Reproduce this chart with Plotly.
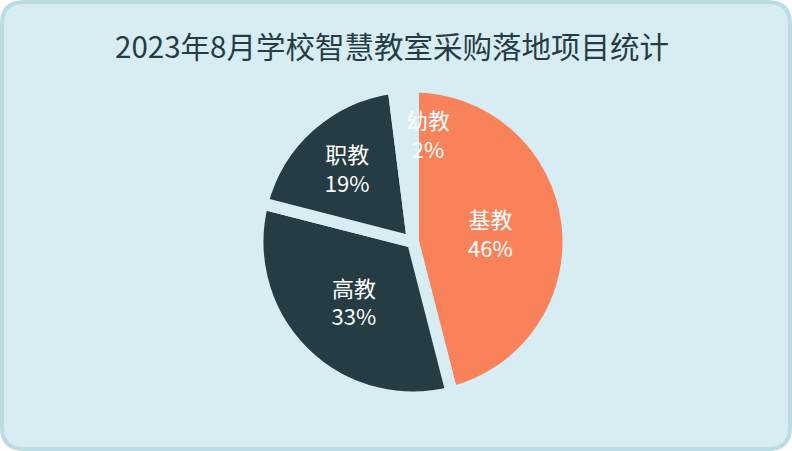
import math
import plotly.graph_objects as go

# 2023年8月 各学段智慧教室采购项目占比
categories = ["基教", "高教", "职教", "幼教"]
shares = [46, 33, 19, 2]
slice_colors = ["#f9825a", "#263c44", "#263c44", "#d7edf3"]

W, H = 792, 451
BG = "#d7edf3"
EDGE = "#b9dde3"
DARK = "#263c44"
FONT = "Noto Sans CJK SC, Microsoft YaHei, sans-serif"

# pie placement in pixels
cx, cy, R = 413, 242, 155.5
gap = 12

# the tiny slice gets its label as an annotation placed from the data
texts = [f"{c}<br>{v}%" for c, v in zip(categories, shares)]
texts[-1] = ""
total = sum(shares)
end = 360.0
lab_ang = math.radians(end + 8)
lab_r = 0.73 * (R - gap / 2)
lab_x = (cx + lab_r * math.sin(lab_ang)) / W
lab_y = 1 - (cy - lab_r * math.cos(lab_ang)) / H

fig = go.Figure(go.Pie(
    labels=categories,
    values=shares,
    text=texts,
    textinfo="text",
    sort=False,
    direction="clockwise",
    rotation=0,
    marker=dict(colors=slice_colors, line=dict(color=BG, width=gap)),
    textposition="inside",
    insidetextorientation="horizontal",
    textfont=dict(family=FONT, size=22, color="white"),
    hoverinfo="skip",
    domain=dict(x=[(cx - R) / W, (cx + R) / W],
                y=[(H - cy - R) / H, (H - cy + R) / H]),
))

fig.add_annotation(
    x=lab_x, y=lab_y, xref="paper", yref="paper",
    xanchor="center", yanchor="middle",
    text=f"{categories[-1]}<br>{shares[-1]}%",
    showarrow=False,
    font=dict(family=FONT, size=22, color="white"),
)

# rounded card behind everything
rx, ry = 22 / W, 22 / H
x0, y0, x1, y1 = 2 / W, 2 / H, 1 - 2 / W, 1 - 2 / H
card = (f"M {x0 + rx} {y0} L {x1 - rx} {y0} Q {x1} {y0} {x1} {y0 + ry} "
        f"L {x1} {y1 - ry} Q {x1} {y1} {x1 - rx} {y1} "
        f"L {x0 + rx} {y1} Q {x0} {y1} {x0} {y1 - ry} "
        f"L {x0} {y0 + ry} Q {x0} {y0} {x0 + rx} {y0} Z")
fig.add_shape(type="path", path=card, xref="paper", yref="paper",
              fillcolor=BG, line=dict(color=EDGE, width=4), layer="below")

fig.update_layout(
    width=W, height=H,
    margin=dict(l=0, r=0, t=0, b=0),
    paper_bgcolor="white",
    showlegend=False,
    title=dict(text="2023年8月学校智慧教室采购落地项目统计",
               x=392 / W, xanchor="center", y=1 - 48 / H, yanchor="middle",
               font=dict(family=FONT, size=29.5, color=DARK)),
)

fig.write_html("out.html", config={"displayModeBar": False},
               post_script="document.body.style.margin='0';")
